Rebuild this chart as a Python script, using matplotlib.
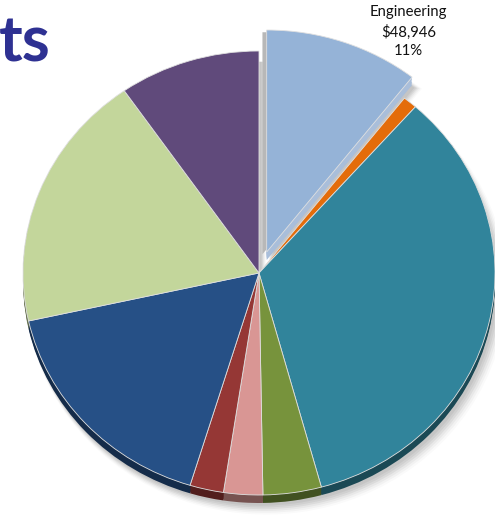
import numpy as np
import matplotlib.pyplot as plt
import matplotlib.colors as mcolors

# department spend, clockwise from 12 o'clock
departments = ["Engineering", "Facilities", "Manufacturing", "Quality", "Legal",
               "IT", "Sales", "Marketing", "Administration"]
costs = [48946, 4500, 158500, 18500, 12400, 10700, 77900, 87100, 44800]
colors = ["#95B3D7", "#E46C0A", "#31849B", "#77933C", "#D99694",
          "#953735", "#265086", "#C3D69B", "#604A7B"]
explode = [0.1, 0, 0, 0, 0, 0, 0, 0, 0]

W, H = 495, 520
fig = plt.figure(figsize=(W / 100, H / 100), dpi=100)
ax = fig.add_axes([0, 0, 1, 1])

# pie centre / radii in pixels (slightly squashed, like a tilted 3D pie)
cx, cy = 259, 273
rx, ry = 236, 222
depth = 8 / ry

def darker(c, f=0.55):
    r, g, b = mcolors.to_rgb(c)
    return (r * f, g * f, b * f)

side_colors = [darker(c) for c in colors]
side_colors[0] = "#A9BEDA"

# soft drop shadow
for k, a in zip(range(6), [0.05, 0.05, 0.05, 0.04, 0.03, 0.02]):
    ax.pie(costs, explode=explode, colors=["#000000"] * len(costs),
           startangle=90, counterclock=False, radius=1.0 + 0.004 * k,
           center=(0.01 + 0.004 * k, -depth - 0.012 - 0.004 * k),
           wedgeprops=dict(alpha=a, linewidth=0))

# side walls: darker copies shifted down
for s in np.linspace(depth, 0.004, 6):
    ax.pie(costs, explode=explode, colors=side_colors,
           startangle=90, counterclock=False, center=(0, -s),
           wedgeprops=dict(linewidth=0))

# cut face of the pulled-out slice
ax.pie(costs, explode=explode, colors=["#B8B8B8"] + ["none"] * (len(costs) - 1),
       startangle=90, counterclock=False, center=(-0.018, -0.01),
       wedgeprops=dict(linewidth=0))

wedges, _ = ax.pie(costs, explode=explode, colors=colors, startangle=90,
                   counterclock=False,
                   wedgeprops=dict(linewidth=0.6, edgecolor="#E0E0E0"))

ax.set_aspect("auto")
ax.set_xlim(-cx / rx, (W - cx) / rx)
ax.set_ylim(-(H - cy) / ry, cy / ry)
ax.axis("off")

# label for the pulled-out slice, just outside its outer corner
w = wedges[0]
ang = np.deg2rad(w.theta1 + 0.18 * (w.theta2 - w.theta1))
lx = w.center[0] + 1.16 * np.cos(ang)
ly = w.center[1] + 1.16 * np.sin(ang)
pct = costs[0] / sum(costs) * 100
ax.text(lx, ly, f"{departments[0]}\n${costs[0]:,}\n{pct:.0f}%",
        ha="center", va="center", fontsize=10.7, family="Lato",
        linespacing=1.42, color="#111111")

fig.text(-1 / W, 1 - 62 / H, "ts", ha="left", va="baseline",
         fontsize=46, fontweight="bold", family="Lato", color="#2E3192")

fig.savefig("out.png", dpi=100)
